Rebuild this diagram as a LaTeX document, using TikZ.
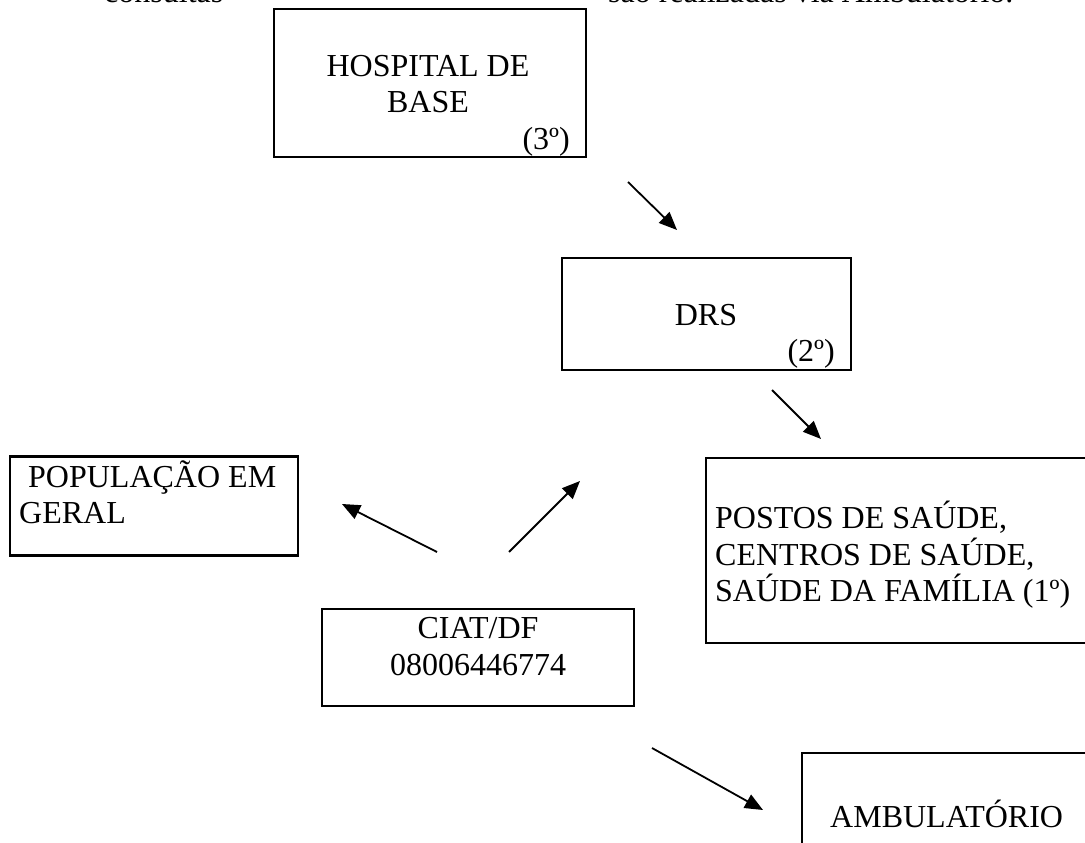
\documentclass[tikz,border=0pt]{standalone}
\usepackage{fontspec}
\setmainfont{Liberation Serif}
\usetikzlibrary{arrows.meta}
\begin{document}
\begin{tikzpicture}[x=1pt,y=-1pt,
  box/.style={draw,line width=2.4pt,rectangle,inner sep=0pt},
  txt/.style={inner sep=0pt,font=\fontsize{32}{36.5}\selectfont},
  arr/.style={line width=1.8pt,-{Triangle[length=18pt,width=15pt]}}]
\useasboundingbox (0,0) rectangle (1085,843);
\clip (0,0) rectangle (1085,843);
\fill[white] (0,0) rectangle (1085,843);
% cut-off text at top
\node[txt,anchor=base west] (t1) at (104,2.5) {consultas};
\node[txt,anchor=base west] (t2) at (608,2.5) {são realizadas via Ambulatório.};
% boxes
\node[box,minimum width=312pt,minimum height=148pt] (hosp) at (430,83) {};
\node[box,minimum width=289pt,minimum height=112pt] (drs) at (706.5,314) {};
\node[box,minimum width=394pt,minimum height=185pt] (postos) at (903,550.5) {};
\node[box,minimum width=288pt,minimum height=99pt] (pop) at (154,506) {};
\node[box,minimum width=312pt,minimum height=97pt] (ciat) at (478,657.5) {};
\node[box,minimum width=298pt,minimum height=117pt] (amb) at (951,811.5) {};
% texts
\node[txt,anchor=base] (h1) at (428,77) {HOSPITAL DE};
\node[txt,anchor=base] (h2) at (428,113) {BASE};
\node[txt,anchor=base east] (h3) at (570,149) {(3º)};
\node[txt,anchor=base] (d1) at (706,325) {DRS};
\node[txt,anchor=base east] (d2) at (835,361) {(2º)};
\node[txt,anchor=base west] (p1) at (715,528) {POSTOS DE SAÚDE,};
\node[txt,anchor=base west] (p2) at (715,565) {CENTROS DE SAÚDE,};
\node[txt,anchor=base west] (p3) at (715,601) {SAÚDE DA FAMÍLIA (1º)};
\node[txt,anchor=base west] (g1) at (28,487) {POPULAÇÃO EM};
\node[txt,anchor=base west] (g2) at (19,523) {GERAL};
\node[txt,anchor=base] (c1) at (478,638) {CIAT/DF};
\node[txt,anchor=base] (c2) at (478,675) {08006446774};
\node[txt,anchor=base west] (a1) at (830,827) {AMBULATÓRIO};
% arrow end points
\coordinate (hs) at (628,182); \coordinate (he) at (677,230);
\coordinate (ds) at (772,390); \coordinate (de) at (821,439);
\coordinate (cps) at (437,552); \coordinate (cpe) at (342,504);
\coordinate (cds) at (509,552); \coordinate (cde) at (580,481);
\coordinate (cas) at (652,748); \coordinate (cae) at (763,810);
\draw[arr] (hs) -- (he);
\draw[arr] (ds) -- (de);
\draw[arr] (cps) -- (cpe);
\draw[arr] (cds) -- (cde);
\draw[arr] (cas) -- (cae);
\end{tikzpicture}
\end{document}
